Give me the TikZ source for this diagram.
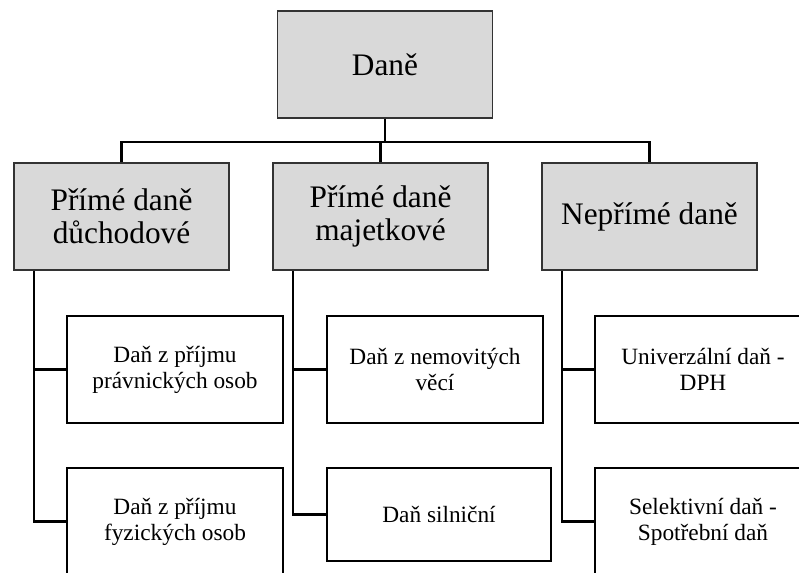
\documentclass[tikz,border=0pt]{standalone}
\usepackage{fontspec}
\setmainfont{Liberation Serif}
\usepackage{tikz}
\usetikzlibrary{calc}
\usepackage{xcolor}
\definecolor{boxgray}{HTML}{D9D9D9}

\begin{document}
\begin{tikzpicture}[x=0.75pt, y=-0.75pt,
    headbox/.style={draw=black!80, line width=1.2pt, fill=boxgray, align=center,
        minimum width=161.25pt, minimum height=80.25pt, inner sep=0pt,
        font=\fontsize{23.5}{25}\selectfont},
    leafbox/.style={draw=black, line width=1.6pt, fill=white, align=center,
        minimum width=162pt, minimum height=80.25pt, inner sep=0pt,
        font=\fontsize{17.5}{19.5}\selectfont},
    link/.style={draw=black, line width=1.6pt}]
    \useasboundingbox (0,0) rectangle (799,572);
    \clip (0,0) rectangle (799,572);

    % Dane
    \node[headbox] (dane) at (385, 64.5) {Daně};

    % druhy dani
    \node[headbox] (pdd) at (121.5, 216.5) {Přímé daně\\důchodové};
    \node[headbox, line width=1.6pt] (pdm) at (380.5, 216.5) {Přímé daně\\majetkové};
    \node[headbox] (npd) at (649.5, 216.5) {Nepřímé daně};

    \draw[link] (dane.south) -- ++(0,23) -| (pdd.north);
    \draw[link] (dane.south) -- ++(0,23) -| (pdm.north);
    \draw[link] (dane.south) -- ++(0,23) -| (npd.north);

    % prime dane duchodove
    \node[leafbox] (dpo) at (175, 369.5) {Daň z příjmu\\právnických osob};
    \node[leafbox] (dfo) at (175, 521.5) {Daň z příjmu\\fyzických osob};

    \draw[link] ($(pdd.south west)+(21,0)$) |- (dpo.west);
    \draw[link] ($(pdd.south west)+(21,0)$) |- (dfo.west);

    % prime dane majetkove
    \node[leafbox] (dnv) at (435, 369.5) {Daň z nemovitých\\věcí};
    \node[leafbox, minimum width=168pt, minimum height=69.75pt] (dsi) at (439, 514.5) {Daň silniční};

    \draw[link] ($(pdm.south west)+(21,0)$) |- (dnv.west);
    \draw[link] ($(pdm.south west)+(21,0)$) |- (dsi.west);

    % neprime dane
    \node[leafbox] (dph) at (703, 369.5) {Univerzální daň -\\DPH};
    \node[leafbox] (spd) at (703, 521.5) {Selektivní daň -\\Spotřební daň};

    \draw[link] ($(npd.south west)+(21,0)$) |- (dph.west);
    \draw[link] ($(npd.south west)+(21,0)$) |- (spd.west);
\end{tikzpicture}
\end{document}
